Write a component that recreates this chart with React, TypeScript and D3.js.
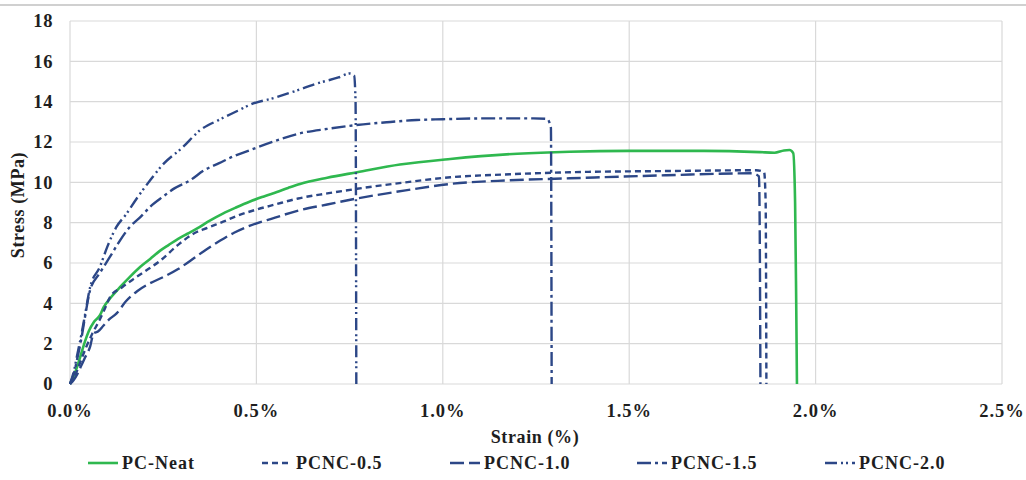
import React from "react";
import * as d3 from "d3";

const xTicks = [0, 0.5, 1.0, 1.5, 2.0, 2.5];
const yTicks = [0, 2, 4, 6, 8, 10, 12, 14, 16, 18];

const pcNeat: [number, number][] = [[0,0],[0.01,0.4],[0.02,0.9],[0.03,1.5],[0.04,2.1],[0.05,2.6],[0.065,3.1],[0.08,3.4],[0.09,3.8],[0.11,4.3],[0.134,4.8],[0.16,5.3],[0.188,5.8],[0.215,6.2],[0.241,6.6],[0.265,6.9],[0.29,7.2],[0.315,7.45],[0.34,7.7],[0.375,8.1],[0.41,8.45],[0.445,8.75],[0.483,9.05],[0.52,9.3],[0.555,9.52],[0.585,9.72],[0.617,9.92],[0.69,10.23],[0.77,10.5],[0.885,10.88],[1.02,11.16],[1.2,11.42],[1.34,11.52],[1.5,11.56],[1.7,11.56],[1.85,11.5],[1.89,11.47],[1.915,11.58],[1.93,11.6],[1.94,11.45],[1.945,9],[1.948,4],[1.95,0]];
const pcnc05: [number, number][] = [[0,0],[0.01,0.3],[0.02,0.7],[0.03,1.2],[0.045,1.9],[0.06,2.5],[0.08,3.2],[0.095,3.8],[0.107,4.3],[0.14,4.8],[0.17,5.2],[0.21,5.7],[0.241,6.1],[0.29,6.9],[0.331,7.45],[0.37,7.75],[0.411,8.05],[0.45,8.35],[0.5,8.65],[0.55,8.9],[0.612,9.2],[0.69,9.45],[0.77,9.68],[0.9,10.0],[1.02,10.25],[1.18,10.4],[1.34,10.5],[1.6,10.56],[1.84,10.6],[1.862,10.5],[1.866,9],[1.868,0]];
const pcnc10: [number, number][] = [[0,0],[0.01,0.2],[0.02,0.5],[0.03,0.9],[0.04,1.3],[0.054,1.85],[0.063,2.5],[0.075,2.6],[0.09,2.9],[0.105,3.2],[0.125,3.5],[0.15,4.1],[0.18,4.6],[0.215,5.0],[0.25,5.3],[0.29,5.7],[0.322,6.1],[0.36,6.6],[0.402,7.1],[0.44,7.5],[0.483,7.85],[0.55,8.25],[0.612,8.6],[0.69,8.9],[0.77,9.2],[0.9,9.6],[1.02,9.92],[1.18,10.1],[1.34,10.2],[1.6,10.35],[1.83,10.45],[1.848,10.3],[1.85,8],[1.852,0]];
const pcnc15: [number, number][] = [[0,0],[0.01,0.5],[0.02,1.3],[0.03,2.2],[0.04,3.3],[0.054,4.66],[0.08,5.5],[0.107,6.3],[0.13,7.0],[0.161,7.8],[0.19,8.3],[0.215,8.79],[0.25,9.3],[0.28,9.7],[0.322,10.1],[0.36,10.6],[0.4,10.95],[0.44,11.3],[0.483,11.6],[0.55,12.05],[0.617,12.43],[0.69,12.65],[0.769,12.84],[0.85,12.98],[0.93,13.09],[1.0,13.13],[1.109,13.17],[1.243,13.17],[1.279,13.15],[1.29,12.7],[1.292,0]];
const pcnc20: [number, number][] = [[0,0],[0.01,0.6],[0.02,1.5],[0.03,2.4],[0.04,3.4],[0.054,4.8],[0.08,5.8],[0.1,6.8],[0.125,7.8],[0.15,8.4],[0.179,9.2],[0.215,10.1],[0.25,10.9],[0.3,11.7],[0.35,12.6],[0.4,13.1],[0.45,13.55],[0.483,13.85],[0.55,14.2],[0.6,14.5],[0.662,14.9],[0.72,15.2],[0.751,15.4],[0.762,15.3],[0.766,14],[0.768,0]];

const seriesNames = ["PC-Neat", "PCNC-0.5", "PCNC-1.0", "PCNC-1.5", "PCNC-2.0"];
const seriesData = [pcNeat, pcnc05, pcnc10, pcnc15, pcnc20];

const GREEN = "#2fb84f";
const NAVY = "#2c4787";
const styles = [
  { color: GREEN, dash: "none", width: 2.6 },
  { color: NAVY, dash: "6,4", width: 2.4 },
  { color: NAVY, dash: "14,5", width: 2.4 },
  { color: NAVY, dash: "14,4,3,4", width: 2.4 },
  { color: NAVY, dash: "12,4,2,3,2,4", width: 2.4 },
];
const legendX = [88, 262, 450, 637, 825];

export default function App() {
  const W = 1026, H = 480;
  const x = d3.scaleLinear().domain([0, 2.5]).range([70, 1002]);
  const y = d3.scaleLinear().domain([0, 18]).range([384, 21]);
  const line = d3.line<[number, number]>().x(d => x(d[0])).y(d => y(d[1])).curve(d3.curveMonotoneX);
  const font = "'Liberation Serif', 'Times New Roman', serif";
  const txt = "#1e1e1e";
  return (
    <svg width={W} height={H} style={{ position: "absolute", left: 0, top: 0, background: "#fff" }}>
      <rect x={0} y={0} width={W} height={H} fill="#fff" />
      <line x1={0} x2={W} y1={5} y2={5} stroke="#d0d0d0" strokeWidth={2} />
      {yTicks.map(t => (
        <line key={"gy" + t} x1={x(0)} x2={x(2.5)} y1={y(t)} y2={y(t)} stroke="#d9d9d9" strokeWidth={1.2} />
      ))}
      {xTicks.map(t => (
        <line key={"gx" + t} x1={x(t)} x2={x(t)} y1={y(0)} y2={y(18)} stroke="#d9d9d9" strokeWidth={1.2} />
      ))}
      {yTicks.map(t => (
        <text key={"ty" + t} x={53} y={y(t)} dy="0.35em" textAnchor="end" fontFamily={font} fontWeight="bold" fontSize={18.5} fill={txt} letterSpacing={0.6}>{t}</text>
      ))}
      {xTicks.map(t => (
        <text key={"tx" + t} x={x(t)} y={417} textAnchor="middle" fontFamily={font} fontWeight="bold" fontSize={18.5} fill={txt} letterSpacing={1}>{t.toFixed(1) + "%"}</text>
      ))}
      <text x={535} y={443} textAnchor="middle" fontFamily={font} fontWeight="bold" fontSize={18} fill={txt} letterSpacing={0.6}>Strain (%)</text>
      <text transform="translate(24,205) rotate(-90)" textAnchor="middle" fontFamily={font} fontWeight="bold" fontSize={18} fill={txt} letterSpacing={0.6}>Stress (MPa)</text>
      {seriesData.map((d, i) => (
        <path key={"s" + i} d={line(d) || ""} fill="none" stroke={styles[i].color} strokeWidth={styles[i].width} strokeDasharray={styles[i].dash} strokeLinejoin="round" />
      ))}
      {seriesNames.map((n, i) => (
        <g key={"l" + i}>
          <line x1={legendX[i]} x2={legendX[i] + 30} y1={463} y2={463} stroke={styles[i].color} strokeWidth={styles[i].width} strokeDasharray={styles[i].dash} />
          <text x={legendX[i] + 34} y={469} fontFamily={font} fontWeight="bold" fontSize={18} fill={txt} letterSpacing={1}>{n}</text>
        </g>
      ))}
    </svg>
  );
}
